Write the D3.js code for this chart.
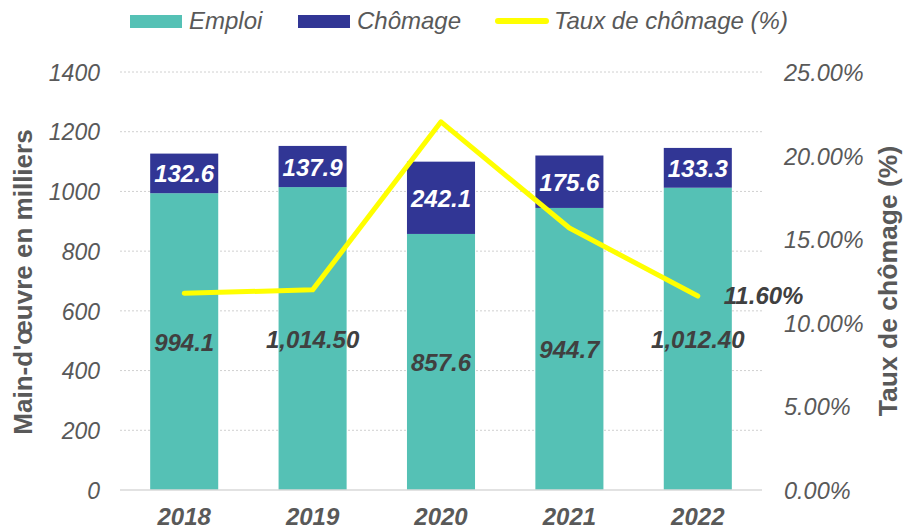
<!DOCTYPE html>
<html>
<head>
<meta charset="utf-8">
<script src="https://cdn.jsdelivr.net/npm/d3@7"></script>
<style>
  body { margin: 0; background: #fff; }
  svg { font-family: "Liberation Sans", Arial, sans-serif; }
</style>
</head>
<body>
<svg id="chart" width="906" height="529"></svg>
<script>
// Données.
const annees = ["2018", "2019", "2020", "2021", "2022"];
const emploi = [994.1, 1014.5, 857.6, 944.7, 1012.4];
const chomage = [132.6, 137.9, 242.1, 175.6, 133.3];
const tauxChomage = [11.77, 11.97, 22.02, 15.67, 11.60];
const labelsEmploi = ["994.1", "1,014.50", "857.6", "944.7", "1,012.40"];
const labelsChomage = ["132.6", "137.9", "242.1", "175.6", "133.3"];
const ticksGauche = [0, 200, 400, 600, 800, 1000, 1200, 1400];
const ticksDroite = [0, 5, 10, 15, 20, 25];

const gris = "#595959";
const couleurEmploi = "#55C1B5";
const couleurChomage = "#313695";
const couleurLigne = "#FFFF00";

const svg = d3.select("#chart");
const plot = { left: 120, right: 762, top: 72, bottom: 490 };

const x = d3.scaleBand()
    .domain(annees)
    .range([plot.left, plot.right])
    .paddingInner(0.47)
    .paddingOuter(0.235);

const y = d3.scaleLinear().domain([0, 1400]).range([plot.bottom, plot.top]);
const y2 = d3.scaleLinear().domain([0, 25]).range([plot.bottom, plot.top]);

// Grille pointillée.
svg.append("g")
    .selectAll("line")
    .data(ticksGauche.filter(d => d > 0))
    .enter().append("line")
    .attr("x1", plot.left).attr("x2", plot.right)
    .attr("y1", d => y(d)).attr("y2", d => y(d))
    .attr("stroke", "#D0D0D0")
    .attr("stroke-width", 1)
    .attr("stroke-dasharray", "2,2");

// Axe gauche.
const axeG = svg.append("g")
    .attr("transform", "translate(" + plot.left + ",0)")
    .call(d3.axisLeft(y).tickValues(ticksGauche).tickSize(0).tickPadding(20)
        .tickFormat(d3.format("d")));
axeG.select(".domain").remove();
axeG.selectAll("text")
    .attr("font-size", 23).attr("font-style", "italic").attr("dy", "0.36em")
    .attr("fill", gris).attr("font-family", "Liberation Sans, Arial, sans-serif");

// Axe droit.
const axeD = svg.append("g")
    .attr("transform", "translate(" + plot.right + ",0)")
    .call(d3.axisRight(y2).tickValues(ticksDroite).tickSize(0).tickPadding(22)
        .tickFormat(d => d.toFixed(2) + "%"));
axeD.select(".domain").remove();
axeD.selectAll("text")
    .attr("font-size", 23.5).attr("font-style", "italic").attr("dy", "0.36em")
    .attr("fill", gris).attr("font-family", "Liberation Sans, Arial, sans-serif");

// Barres empilées.
const barres = svg.append("g");
barres.selectAll(".emploi")
    .data(annees)
    .enter().append("rect")
    .attr("class", "emploi")
    .attr("x", d => x(d))
    .attr("width", x.bandwidth())
    .attr("y", (d, i) => y(emploi[i]))
    .attr("height", (d, i) => y(0) - y(emploi[i]))
    .attr("fill", couleurEmploi);

barres.selectAll(".chomage")
    .data(annees)
    .enter().append("rect")
    .attr("class", "chomage")
    .attr("x", d => x(d))
    .attr("width", x.bandwidth())
    .attr("y", (d, i) => y(emploi[i] + chomage[i]))
    .attr("height", (d, i) => y(emploi[i]) - y(emploi[i] + chomage[i]))
    .attr("fill", couleurChomage);

// Ligne de base.
svg.append("line")
    .attr("x1", plot.left).attr("x2", plot.right)
    .attr("y1", y(0)).attr("y2", y(0))
    .attr("stroke", "#D9D9D9").attr("stroke-width", 1.5);

// Étiquettes des années.
svg.append("g")
    .selectAll("text")
    .data(annees)
    .enter().append("text")
    .attr("x", d => x(d) + x.bandwidth() / 2)
    .attr("y", 525)
    .attr("text-anchor", "middle")
    .attr("font-size", 24).attr("font-weight", "bold").attr("font-style", "italic")
    .attr("fill", gris)
    .text(d => d);

// Valeurs dans les barres.
svg.append("g")
    .selectAll("text")
    .data(annees)
    .enter().append("text")
    .attr("x", d => x(d) + x.bandwidth() / 2)
    .attr("y", (d, i) => y(emploi[i] / 2) + 9)
    .attr("text-anchor", "middle")
    .attr("font-size", 24).attr("font-weight", "bold").attr("font-style", "italic")
    .attr("fill", "#404040")
    .text((d, i) => labelsEmploi[i]);

svg.append("g")
    .selectAll("text")
    .data(annees)
    .enter().append("text")
    .attr("x", d => x(d) + x.bandwidth() / 2)
    .attr("y", (d, i) => y(emploi[i] + chomage[i] / 2) + 9)
    .attr("text-anchor", "middle")
    .attr("font-size", 24).attr("font-weight", "bold").attr("font-style", "italic")
    .attr("fill", "#fff")
    .text((d, i) => labelsChomage[i]);

// Courbe du taux de chômage.
const ligne = d3.line()
    .x((d, i) => x(annees[i]) + x.bandwidth() / 2)
    .y(d => y2(d));

svg.append("path")
    .datum(tauxChomage)
    .attr("d", ligne)
    .attr("fill", "none")
    .attr("stroke", couleurLigne)
    .attr("stroke-width", 5)
    .attr("stroke-linecap", "round")
    .attr("stroke-linejoin", "round");

// Étiquette du dernier point.
const dernier = tauxChomage.length - 1;
svg.append("text")
    .attr("x", x(annees[dernier]) + x.bandwidth() / 2 + 26)
    .attr("y", y2(tauxChomage[dernier]) + 8)
    .attr("font-size", 24).attr("font-weight", "bold").attr("font-style", "italic")
    .attr("fill", "#404040")
    .text("11.60%");

// Titres des axes.
svg.append("text")
    .attr("transform", "translate(32,282) rotate(-90)")
    .attr("text-anchor", "middle")
    .attr("font-size", 26).attr("font-weight", "bold")
    .attr("fill", gris)
    .text("Main-d'œuvre en milliers");

svg.append("text")
    .attr("transform", "translate(897,281) rotate(-90)")
    .attr("text-anchor", "middle")
    .attr("font-size", 26.5).attr("font-weight", "bold")
    .attr("fill", gris)
    .text("Taux de chômage (%)");

// Légende.
const legende = [
    { nom: "Emploi", type: "rect", couleur: couleurEmploi, x: 130 },
    { nom: "Chômage", type: "rect", couleur: couleurChomage, x: 298 },
    { nom: "Taux de chômage (%)", type: "line", couleur: couleurLigne, x: 495 }
];
const leg = svg.append("g");
legende.forEach(l => {
    if (l.type === "rect") {
        leg.append("rect")
            .attr("x", l.x).attr("y", 15).attr("width", 52).attr("height", 13)
            .attr("fill", l.couleur);
    } else {
        leg.append("line")
            .attr("x1", l.x + 3).attr("x2", l.x + 51).attr("y1", 21).attr("y2", 21)
            .attr("stroke", l.couleur).attr("stroke-width", 6).attr("stroke-linecap", "round");
    }
    leg.append("text")
        .attr("x", l.x + 59).attr("y", 29)
        .attr("font-size", 24).attr("font-style", "italic")
        .attr("fill", gris)
        .text(l.nom);
});
</script>
</body>
</html>
